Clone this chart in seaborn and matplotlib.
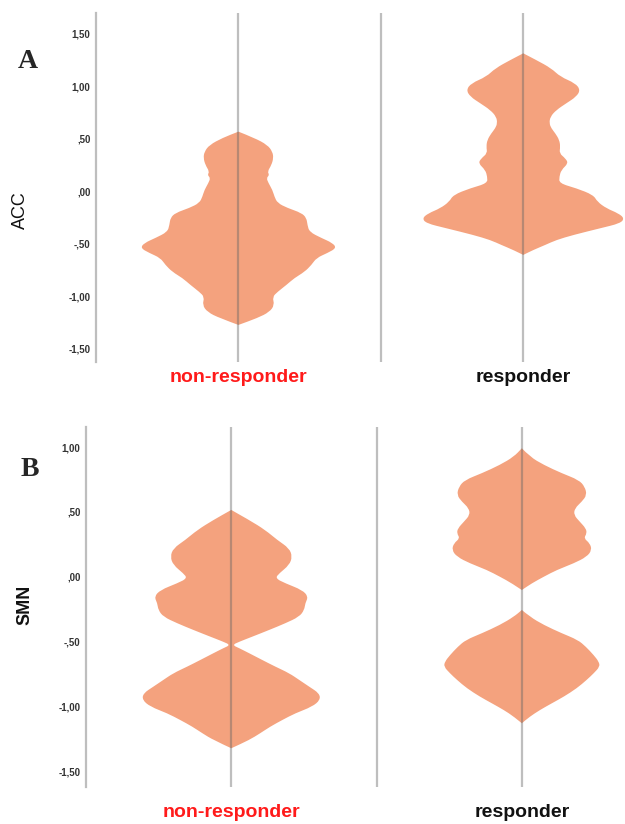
import numpy as np
import pandas as pd
import matplotlib
matplotlib.use("Agg")
import matplotlib.pyplot as plt
from matplotlib.path import Path
from matplotlib.patches import PathPatch
import seaborn as sns

# ---------------- data ----------------
groups = ["non-responder", "responder"]
group_colors = ["#ff1a1a", "#111111"]

# ACC, non-responder: value levels and density (half-width) profile
acc_nr_val = [0.568, 0.508, 0.441, 0.377, 0.317, 0.250, 0.187, 0.155, 0.127, 0.079,
              0.012, -0.051, -0.111, -0.159, -0.206, -0.254, -0.321, -0.387, -0.445,
              -0.492, -0.540, -0.588, -0.635, -0.702, -0.768, -0.826, -0.892, -0.959,
              -1.007, -1.083, -1.150, -1.207, -1.273]
acc_nr_dens = [0, 16, 29, 34, 35, 33, 29, 31, 28, 30,
               34, 36, 39, 49, 63, 68, 69, 71, 83,
               94, 98, 89, 78, 73, 66, 56, 48, 39,
               34, 36, 31, 19, 0]

# ACC, responder
acc_r_val = [1.314, 1.250, 1.171, 1.091, 1.029, 0.965, 0.901, 0.838, 0.774, 0.710,
             0.648, 0.600, 0.552, 0.489, 0.425, 0.362, 0.314, 0.267, 0.203, 0.139,
             0.076, 0.029, -0.035, -0.099, -0.162, -0.210, -0.257, -0.305, -0.352,
             -0.416, -0.464, -0.511, -0.559, -0.606]
acc_r_dens = [0, 13, 28, 37, 52, 57, 53, 43, 33, 27,
              26, 28, 32, 36, 37, 36, 42, 45, 38, 36,
              36, 53, 70, 74, 83, 95, 101, 97, 77,
              50, 33, 22, 10, 0]

# SMN, non-responder
smn_nr_val = [0.515, 0.437, 0.360, 0.283, 0.219, 0.154, 0.090, 0.026, -0.012, -0.051,
              -0.103, -0.154, -0.205, -0.257, -0.309, -0.360, -0.411, -0.463, -0.502,
              -0.527, -0.552, -0.591, -0.643, -0.694, -0.745, -0.797, -0.849, -0.900,
              -0.951, -1.003, -1.054, -1.106, -1.157, -1.208, -1.260, -1.324]
smn_nr_dens = [0, 18, 34, 46, 58, 61, 58, 48, 44, 54,
               71, 77, 74, 73, 68, 54, 38, 21, 8,
               1, 8, 18, 31, 44, 58, 68, 78, 88,
               89, 81, 64, 51, 39, 29, 18, 0]

# SMN, responder (two separate lobes)
smn_r_top_val = [0.991, 0.926, 0.862, 0.798, 0.746, 0.694, 0.630, 0.579, 0.528, 0.476,
                 0.424, 0.373, 0.335, 0.296, 0.258, 0.206, 0.154, 0.103, 0.052, 0.000,
                 -0.051, -0.103]
smn_r_top_dens = [0, 8, 22, 40, 57, 63, 65, 60, 53, 52,
                  58, 64, 65, 62, 68, 70, 65, 52, 35, 22,
                  10, 0]
smn_r_bot_val = [-0.257, -0.309, -0.373, -0.437, -0.488, -0.540, -0.606, -0.656, -0.694,
                 -0.745, -0.796, -0.861, -0.926, -0.977, -1.029, -1.080, -1.131]
smn_r_bot_dens = [0, 8, 22, 40, 56, 64, 72, 77, 78,
                  72, 65, 55, 42, 30, 18, 8, 0]

acc_ticks = [1.5, 1.0, 0.5, 0.0, -0.5, -1.0, -1.5]
acc_ticklabels = ["1,50", "1,00", ",50", ",00", "-,50", "-1,00", "-1,50"]
smn_ticks = [1.0, 0.5, 0.0, -0.5, -1.0, -1.5]
smn_ticklabels = ["1,00", ",50", ",00", "-,50", "-1,00", "-1,50"]

# ---------------- styling ----------------
sns.set_theme(style="white")
plt.rcParams["font.family"] = ["Liberation Sans", "DejaVu Sans"]

FILL = "#f4a27e"
GRID = "#bebebe"


def smooth_violin(ax, pos, vals, dens, scale):
    """Draw a mirrored density shape with a smooth (quadratic B-spline) outline."""
    df = pd.DataFrame({"v": vals, "d": dens})
    half = df["d"].to_numpy() / scale
    v = df["v"].to_numpy()
    xs = np.concatenate([pos + half, (pos - half)[::-1]])
    ys = np.concatenate([v, v[::-1]])
    pts = np.column_stack([xs, ys])
    n = len(pts)
    verts = [pts[0]]
    codes = [Path.MOVETO]
    for i in range(1, n - 1):
        if i == len(v) - 1 or i == len(v):
            # keep the pointed tips at the ends
            verts.append(pts[i]); codes.append(Path.LINETO)
            continue
        mid = (pts[i] + pts[i + 1]) / 2
        verts += [pts[i], mid]
        codes += [Path.CURVE3, Path.CURVE3]
    verts.append(pts[-1]); codes.append(Path.LINETO)
    verts.append(pts[0]); codes.append(Path.CLOSEPOLY)
    ax.add_patch(PathPatch(Path(verts, codes), facecolor=FILL, lw=0, zorder=2))


fig = plt.figure(figsize=(6.25, 8.24), dpi=100)

panels = [
    dict(rect=[96/625, 1-362/824, 1-96/625, (362-13)/824], ylim=(-1.626, 1.698),
         xlim=(-0.5, 1.357), spacing=284.8,
         data=[(0, acc_nr_val, acc_nr_dens), (1, acc_r_val, acc_r_dens)],
         ticks=acc_ticks, ticklabels=acc_ticklabels, pad=5),
    dict(rect=[86/625, 1-787/824, 1-86/625, (787-427)/824], ylim=(-1.623, 1.155),
         xlim=(-0.5, 1.355), spacing=290.7,
         data=[(0, smn_nr_val, smn_nr_dens), (1, smn_r_top_val, smn_r_top_dens),
               (1, smn_r_bot_val, smn_r_bot_dens)],
         ticks=smn_ticks, ticklabels=smn_ticklabels, pad=12),
]

for p in panels:
    ax = fig.add_axes(p["rect"])
    for pos, vals, dens in p["data"]:
        smooth_violin(ax, pos, vals, dens, p["spacing"])
    for xc in [0, 1]:
        ax.axvline(xc, color="#646464", alpha=0.42, lw=1.6, zorder=3)
    ax.axvline(0.5, color=GRID, lw=1.6, zorder=3)
    ax.set_xlim(*p["xlim"])
    ax.set_ylim(*p["ylim"])
    sns.despine(ax=ax, top=True, right=True, bottom=True, left=False)
    ax.spines["left"].set_color(GRID)
    ax.spines["left"].set_linewidth(1.6)
    ax.set_yticks(p["ticks"])
    ax.set_yticklabels(p["ticklabels"], fontsize=7, fontweight="bold", color="#333333")
    ax.set_xticks([0, 1])
    ax.set_xticklabels(groups, fontsize=14, fontweight="bold")
    for lab, c in zip(ax.get_xticklabels(), group_colors):
        lab.set_color(c)
    ax.tick_params(axis="y", length=0, pad=4)
    ax.tick_params(axis="x", length=0, pad=p["pad"])
    ax.grid(False)
    ax.set_facecolor("white")

fig.text(20/625, 1-210/824, "ACC", rotation=90, ha="center", va="center",
         fontsize=13, color="#111111")
fig.text(25/625, 1-605/824, "SMN", rotation=90, ha="center", va="center",
         fontsize=13, fontweight="bold", color="#111111")
fig.text(28/625, 1-62/824, "A", ha="center", va="center", fontsize=20,
         fontweight="bold", family=["Liberation Serif", "DejaVu Serif"])
fig.text(30/625, 1-470/824, "B", ha="center", va="center", fontsize=20,
         fontweight="bold", family=["Liberation Serif", "DejaVu Serif"])

fig.savefig("out.png", dpi=100, facecolor="white")
